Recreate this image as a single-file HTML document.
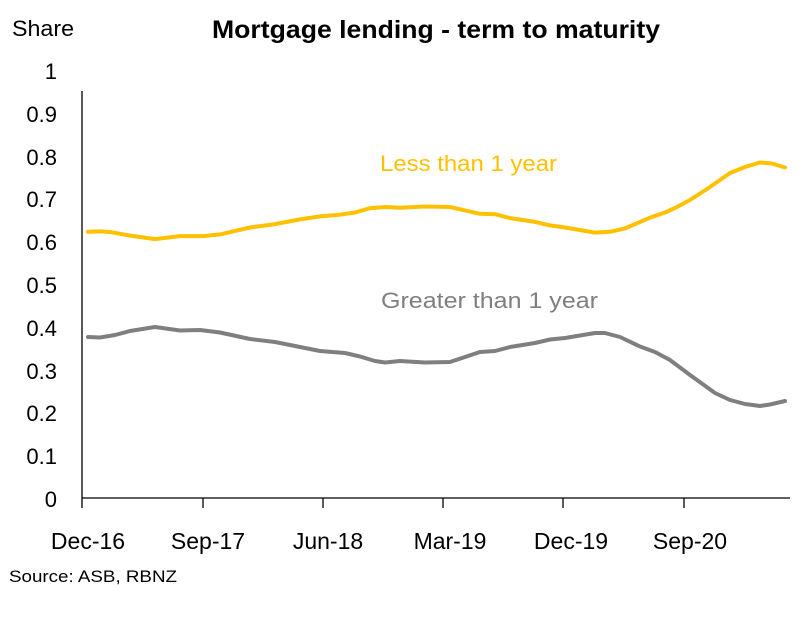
<!DOCTYPE html>
<html><head><meta charset="utf-8"><style>
html,body{margin:0;padding:0;background:#fff;}
svg{display:block;font-family:"Liberation Sans",sans-serif;}
</style></head><body>
<svg width="810" height="622" viewBox="0 0 810 622" xmlns="http://www.w3.org/2000/svg">
<text x="12" y="36" font-size="22" fill="#000" textLength="62" lengthAdjust="spacingAndGlyphs">Share</text>
<text x="212" y="38" font-size="25" font-weight="bold" fill="#000" textLength="448" lengthAdjust="spacingAndGlyphs">Mortgage lending - term to maturity</text>
<g font-size="22" fill="#000" text-anchor="end">
<text x="57" y="79">1</text>
<text x="57" y="122">0.9</text>
<text x="57" y="165">0.8</text>
<text x="57" y="207">0.7</text>
<text x="57" y="250">0.6</text>
<text x="57" y="293">0.5</text>
<text x="57" y="336">0.4</text>
<text x="57" y="379">0.3</text>
<text x="57" y="421">0.2</text>
<text x="57" y="464">0.1</text>
<text x="57" y="507">0</text>
</g>
<g stroke="#000" stroke-width="1.3" fill="none">
<line x1="82" y1="91" x2="82" y2="508"/>
<line x1="82" y1="498" x2="790" y2="498"/>
<line x1="203" y1="498" x2="203" y2="508"/>
<line x1="323" y1="498" x2="323" y2="508"/>
<line x1="443" y1="498" x2="443" y2="508"/>
<line x1="563" y1="498" x2="563" y2="508"/>
<line x1="684" y1="498" x2="684" y2="508"/>
</g>
<g font-size="23" fill="#000" text-anchor="middle">
<text x="88" y="549">Dec-16</text>
<text x="208" y="549">Sep-17</text>
<text x="328" y="549">Jun-18</text>
<text x="450" y="549">Mar-19</text>
<text x="571" y="549">Dec-19</text>
<text x="690" y="549">Sep-20</text>
</g>
<text x="9" y="582" font-size="17" fill="#000" textLength="168" lengthAdjust="spacingAndGlyphs">Source: ASB, RBNZ</text>
<polyline fill="none" stroke="#FFC000" stroke-width="4" stroke-linejoin="round" stroke-linecap="round"
points="88,231.8 100,231.4 110,232 130,235.6 155,239.1 180,236.1 203,236.1 220,234.4 250,227.5 275,224.1 300,219.4 320,216.4 340,214.7 355,212.5 370,208.2 385,207 400,207.8 425,206.5 450,207 465,210.4 480,213.8 495,214.2 510,218.1 535,221.9 550,225.4 565,227.5 595,232.6 610,231.8 625,228.4 650,217.7 665,212.5 675,208 690,200 710,187 730,173 745,167 760,162.5 772,163.5 785,167.5"/>
<polyline fill="none" stroke="#7F7F7F" stroke-width="4" stroke-linejoin="round" stroke-linecap="round"
points="88,337 100,337.5 115,335 130,331 155,327 180,330.5 200,330 220,332.5 250,339 275,342 300,347 320,351 345,353 360,356.5 375,361 385,362.5 400,361 425,362.5 450,362 465,357 480,352 495,351 510,347 535,343 550,339.5 565,338 595,333 605,333 620,337 640,346.5 655,352 670,360 690,375 715,393 730,400 745,404 760,406 770,404.5 785,401"/>
<text x="380" y="171" font-size="22" fill="#FFC000" textLength="177" lengthAdjust="spacingAndGlyphs">Less than 1 year</text>
<text x="381" y="308" font-size="22" fill="#7F7F7F" textLength="217" lengthAdjust="spacingAndGlyphs">Greater than 1 year</text>
</svg>
</body></html>
